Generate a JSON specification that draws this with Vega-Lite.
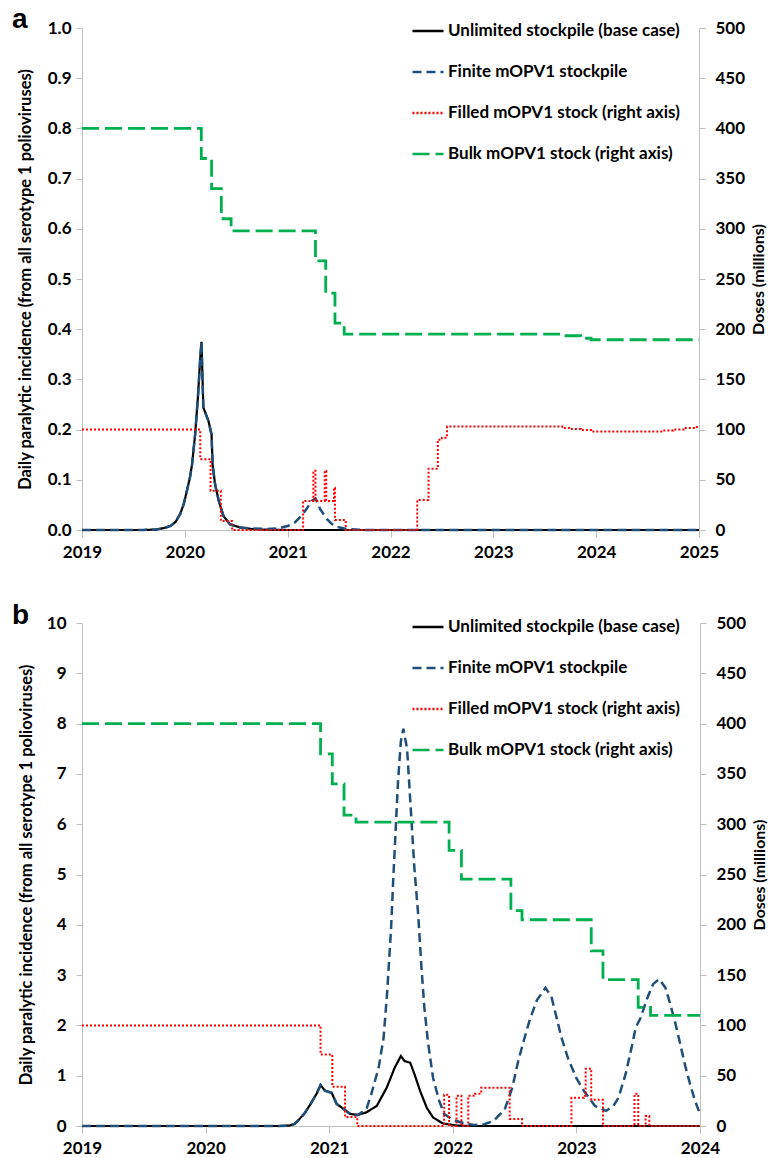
{
  "$schema": "https://vega.github.io/schema/vega-lite/v6.json",
  "background": "white",
  "padding": {"left": 12, "top": 6, "right": 0, "bottom": 0},
  "config": {
    "font": "Lato",
    "view": {"stroke": null},
    "axis": {"labelFont": "Lato", "labelFontWeight": "bold", "labelFontSize": 17, "labelColor": "#000000", "titleFont": "Lato", "titleFontWeight": "bold", "titleFontSize": 16.5, "titleColor": "#000000", "domainColor": "#BFBFBF", "tickColor": "#BFBFBF", "grid": false, "tickSize": 6}
  },
  "datasets": {
    "a": [
      {"s": "Unlimited stockpile (base case)", "t": 2019, "v": 0},
      {"s": "Unlimited stockpile (base case)", "t": 2019.6, "v": 0},
      {"s": "Unlimited stockpile (base case)", "t": 2019.72, "v": 0.001},
      {"s": "Unlimited stockpile (base case)", "t": 2019.8, "v": 0.004},
      {"s": "Unlimited stockpile (base case)", "t": 2019.86, "v": 0.008},
      {"s": "Unlimited stockpile (base case)", "t": 2019.91, "v": 0.016},
      {"s": "Unlimited stockpile (base case)", "t": 2019.955, "v": 0.032},
      {"s": "Unlimited stockpile (base case)", "t": 2019.99, "v": 0.052},
      {"s": "Unlimited stockpile (base case)", "t": 2020.02, "v": 0.078},
      {"s": "Unlimited stockpile (base case)", "t": 2020.05, "v": 0.105},
      {"s": "Unlimited stockpile (base case)", "t": 2020.07, "v": 0.13},
      {"s": "Unlimited stockpile (base case)", "t": 2020.1, "v": 0.19},
      {"s": "Unlimited stockpile (base case)", "t": 2020.127, "v": 0.264},
      {"s": "Unlimited stockpile (base case)", "t": 2020.15, "v": 0.343},
      {"s": "Unlimited stockpile (base case)", "t": 2020.162, "v": 0.375},
      {"s": "Unlimited stockpile (base case)", "t": 2020.18, "v": 0.244},
      {"s": "Unlimited stockpile (base case)", "t": 2020.23, "v": 0.217},
      {"s": "Unlimited stockpile (base case)", "t": 2020.26, "v": 0.19},
      {"s": "Unlimited stockpile (base case)", "t": 2020.27, "v": 0.13},
      {"s": "Unlimited stockpile (base case)", "t": 2020.295, "v": 0.09},
      {"s": "Unlimited stockpile (base case)", "t": 2020.33, "v": 0.058},
      {"s": "Unlimited stockpile (base case)", "t": 2020.375, "v": 0.028},
      {"s": "Unlimited stockpile (base case)", "t": 2020.44, "v": 0.011},
      {"s": "Unlimited stockpile (base case)", "t": 2020.54, "v": 0.005},
      {"s": "Unlimited stockpile (base case)", "t": 2020.65, "v": 0.002},
      {"s": "Unlimited stockpile (base case)", "t": 2020.8, "v": 0.0005},
      {"s": "Unlimited stockpile (base case)", "t": 2021, "v": 0},
      {"s": "Unlimited stockpile (base case)", "t": 2025, "v": 0},

      {"s": "Finite mOPV1 stockpile", "t": 2019, "v": 0},
      {"s": "Finite mOPV1 stockpile", "t": 2019.6, "v": 0},
      {"s": "Finite mOPV1 stockpile", "t": 2019.72, "v": 0.001},
      {"s": "Finite mOPV1 stockpile", "t": 2019.8, "v": 0.004},
      {"s": "Finite mOPV1 stockpile", "t": 2019.86, "v": 0.008},
      {"s": "Finite mOPV1 stockpile", "t": 2019.91, "v": 0.016},
      {"s": "Finite mOPV1 stockpile", "t": 2019.955, "v": 0.032},
      {"s": "Finite mOPV1 stockpile", "t": 2019.99, "v": 0.052},
      {"s": "Finite mOPV1 stockpile", "t": 2020.02, "v": 0.078},
      {"s": "Finite mOPV1 stockpile", "t": 2020.05, "v": 0.105},
      {"s": "Finite mOPV1 stockpile", "t": 2020.07, "v": 0.13},
      {"s": "Finite mOPV1 stockpile", "t": 2020.1, "v": 0.19},
      {"s": "Finite mOPV1 stockpile", "t": 2020.127, "v": 0.264},
      {"s": "Finite mOPV1 stockpile", "t": 2020.15, "v": 0.343},
      {"s": "Finite mOPV1 stockpile", "t": 2020.162, "v": 0.375},
      {"s": "Finite mOPV1 stockpile", "t": 2020.18, "v": 0.244},
      {"s": "Finite mOPV1 stockpile", "t": 2020.23, "v": 0.217},
      {"s": "Finite mOPV1 stockpile", "t": 2020.26, "v": 0.19},
      {"s": "Finite mOPV1 stockpile", "t": 2020.27, "v": 0.13},
      {"s": "Finite mOPV1 stockpile", "t": 2020.295, "v": 0.09},
      {"s": "Finite mOPV1 stockpile", "t": 2020.33, "v": 0.058},
      {"s": "Finite mOPV1 stockpile", "t": 2020.375, "v": 0.028},
      {"s": "Finite mOPV1 stockpile", "t": 2020.44, "v": 0.011},
      {"s": "Finite mOPV1 stockpile", "t": 2020.54, "v": 0.005},
      {"s": "Finite mOPV1 stockpile", "t": 2020.65, "v": 0.003},
      {"s": "Finite mOPV1 stockpile", "t": 2020.8, "v": 0.002},
      {"s": "Finite mOPV1 stockpile", "t": 2020.9, "v": 0.003},
      {"s": "Finite mOPV1 stockpile", "t": 2021, "v": 0.008},
      {"s": "Finite mOPV1 stockpile", "t": 2021.07, "v": 0.015},
      {"s": "Finite mOPV1 stockpile", "t": 2021.15, "v": 0.032},
      {"s": "Finite mOPV1 stockpile", "t": 2021.2, "v": 0.047},
      {"s": "Finite mOPV1 stockpile", "t": 2021.235, "v": 0.058},
      {"s": "Finite mOPV1 stockpile", "t": 2021.27, "v": 0.063},
      {"s": "Finite mOPV1 stockpile", "t": 2021.315, "v": 0.042},
      {"s": "Finite mOPV1 stockpile", "t": 2021.38, "v": 0.022},
      {"s": "Finite mOPV1 stockpile", "t": 2021.43, "v": 0.012},
      {"s": "Finite mOPV1 stockpile", "t": 2021.48, "v": 0.006},
      {"s": "Finite mOPV1 stockpile", "t": 2021.575, "v": 0.002},
      {"s": "Finite mOPV1 stockpile", "t": 2021.7, "v": 0.0005},
      {"s": "Finite mOPV1 stockpile", "t": 2021.8, "v": 0},
      {"s": "Finite mOPV1 stockpile", "t": 2025, "v": 0},

      {"s": "Filled mOPV1 stock (right axis)", "t": 2019, "v": 100},
      {"s": "Filled mOPV1 stock (right axis)", "t": 2020.15, "v": 70.5},
      {"s": "Filled mOPV1 stock (right axis)", "t": 2020.25, "v": 39},
      {"s": "Filled mOPV1 stock (right axis)", "t": 2020.35, "v": 9},
      {"s": "Filled mOPV1 stock (right axis)", "t": 2020.46, "v": 0},
      {"s": "Filled mOPV1 stock (right axis)", "t": 2021.15, "v": 29},
      {"s": "Filled mOPV1 stock (right axis)", "t": 2021.25, "v": 59},
      {"s": "Filled mOPV1 stock (right axis)", "t": 2021.27, "v": 29},
      {"s": "Filled mOPV1 stock (right axis)", "t": 2021.36, "v": 59},
      {"s": "Filled mOPV1 stock (right axis)", "t": 2021.375, "v": 29},
      {"s": "Filled mOPV1 stock (right axis)", "t": 2021.45, "v": 42},
      {"s": "Filled mOPV1 stock (right axis)", "t": 2021.46, "v": 10},
      {"s": "Filled mOPV1 stock (right axis)", "t": 2021.565, "v": 0},
      {"s": "Filled mOPV1 stock (right axis)", "t": 2022.26, "v": 30},
      {"s": "Filled mOPV1 stock (right axis)", "t": 2022.37, "v": 61},
      {"s": "Filled mOPV1 stock (right axis)", "t": 2022.46, "v": 90},
      {"s": "Filled mOPV1 stock (right axis)", "t": 2022.5, "v": 92},
      {"s": "Filled mOPV1 stock (right axis)", "t": 2022.55, "v": 103},
      {"s": "Filled mOPV1 stock (right axis)", "t": 2023.67, "v": 101.5},
      {"s": "Filled mOPV1 stock (right axis)", "t": 2023.75, "v": 100.5},
      {"s": "Filled mOPV1 stock (right axis)", "t": 2023.85, "v": 99.5},
      {"s": "Filled mOPV1 stock (right axis)", "t": 2023.95, "v": 98},
      {"s": "Filled mOPV1 stock (right axis)", "t": 2024.65, "v": 99},
      {"s": "Filled mOPV1 stock (right axis)", "t": 2024.75, "v": 100},
      {"s": "Filled mOPV1 stock (right axis)", "t": 2024.85, "v": 101.5},
      {"s": "Filled mOPV1 stock (right axis)", "t": 2024.95, "v": 102.5},
      {"s": "Filled mOPV1 stock (right axis)", "t": 2025, "v": 102.5},

      {"s": "Bulk mOPV1 stock (right axis)", "t": 2019, "v": 400},
      {"s": "Bulk mOPV1 stock (right axis)", "t": 2020.16, "v": 370},
      {"s": "Bulk mOPV1 stock (right axis)", "t": 2020.26, "v": 340},
      {"s": "Bulk mOPV1 stock (right axis)", "t": 2020.355, "v": 310},
      {"s": "Bulk mOPV1 stock (right axis)", "t": 2020.45, "v": 298},
      {"s": "Bulk mOPV1 stock (right axis)", "t": 2021.27, "v": 268},
      {"s": "Bulk mOPV1 stock (right axis)", "t": 2021.37, "v": 236},
      {"s": "Bulk mOPV1 stock (right axis)", "t": 2021.46, "v": 206},
      {"s": "Bulk mOPV1 stock (right axis)", "t": 2021.55, "v": 195},
      {"s": "Bulk mOPV1 stock (right axis)", "t": 2023.67, "v": 193.5},
      {"s": "Bulk mOPV1 stock (right axis)", "t": 2023.85, "v": 191},
      {"s": "Bulk mOPV1 stock (right axis)", "t": 2023.95, "v": 189.5},
      {"s": "Bulk mOPV1 stock (right axis)", "t": 2025, "v": 189.5}
    ],
    "b": [
      {"s": "Unlimited stockpile (base case)", "t": 2019, "v": 0},
      {"s": "Unlimited stockpile (base case)", "t": 2020.6, "v": 0},
      {"s": "Unlimited stockpile (base case)", "t": 2020.68, "v": 0.01},
      {"s": "Unlimited stockpile (base case)", "t": 2020.72, "v": 0.04},
      {"s": "Unlimited stockpile (base case)", "t": 2020.76, "v": 0.14},
      {"s": "Unlimited stockpile (base case)", "t": 2020.8, "v": 0.25},
      {"s": "Unlimited stockpile (base case)", "t": 2020.845, "v": 0.42},
      {"s": "Unlimited stockpile (base case)", "t": 2020.9, "v": 0.65},
      {"s": "Unlimited stockpile (base case)", "t": 2020.93, "v": 0.815},
      {"s": "Unlimited stockpile (base case)", "t": 2020.966, "v": 0.7},
      {"s": "Unlimited stockpile (base case)", "t": 2021.02, "v": 0.66},
      {"s": "Unlimited stockpile (base case)", "t": 2021.06, "v": 0.44},
      {"s": "Unlimited stockpile (base case)", "t": 2021.115, "v": 0.34},
      {"s": "Unlimited stockpile (base case)", "t": 2021.17, "v": 0.24},
      {"s": "Unlimited stockpile (base case)", "t": 2021.23, "v": 0.22},
      {"s": "Unlimited stockpile (base case)", "t": 2021.3, "v": 0.27},
      {"s": "Unlimited stockpile (base case)", "t": 2021.385, "v": 0.4},
      {"s": "Unlimited stockpile (base case)", "t": 2021.465, "v": 0.76},
      {"s": "Unlimited stockpile (base case)", "t": 2021.53, "v": 1.16},
      {"s": "Unlimited stockpile (base case)", "t": 2021.58, "v": 1.39},
      {"s": "Unlimited stockpile (base case)", "t": 2021.61, "v": 1.29},
      {"s": "Unlimited stockpile (base case)", "t": 2021.655, "v": 1.26},
      {"s": "Unlimited stockpile (base case)", "t": 2021.69, "v": 1.03},
      {"s": "Unlimited stockpile (base case)", "t": 2021.735, "v": 0.7},
      {"s": "Unlimited stockpile (base case)", "t": 2021.79, "v": 0.36},
      {"s": "Unlimited stockpile (base case)", "t": 2021.84, "v": 0.17},
      {"s": "Unlimited stockpile (base case)", "t": 2021.92, "v": 0.05},
      {"s": "Unlimited stockpile (base case)", "t": 2022.03, "v": 0.01},
      {"s": "Unlimited stockpile (base case)", "t": 2022.15, "v": 0},
      {"s": "Unlimited stockpile (base case)", "t": 2024, "v": 0},

      {"s": "Finite mOPV1 stockpile", "t": 2019, "v": 0},
      {"s": "Finite mOPV1 stockpile", "t": 2020.6, "v": 0},
      {"s": "Finite mOPV1 stockpile", "t": 2020.68, "v": 0.01},
      {"s": "Finite mOPV1 stockpile", "t": 2020.72, "v": 0.04},
      {"s": "Finite mOPV1 stockpile", "t": 2020.76, "v": 0.14},
      {"s": "Finite mOPV1 stockpile", "t": 2020.8, "v": 0.25},
      {"s": "Finite mOPV1 stockpile", "t": 2020.845, "v": 0.42},
      {"s": "Finite mOPV1 stockpile", "t": 2020.9, "v": 0.65},
      {"s": "Finite mOPV1 stockpile", "t": 2020.93, "v": 0.815},
      {"s": "Finite mOPV1 stockpile", "t": 2020.966, "v": 0.7},
      {"s": "Finite mOPV1 stockpile", "t": 2021.02, "v": 0.66},
      {"s": "Finite mOPV1 stockpile", "t": 2021.06, "v": 0.44},
      {"s": "Finite mOPV1 stockpile", "t": 2021.115, "v": 0.34},
      {"s": "Finite mOPV1 stockpile", "t": 2021.17, "v": 0.24},
      {"s": "Finite mOPV1 stockpile", "t": 2021.23, "v": 0.22},
      {"s": "Finite mOPV1 stockpile", "t": 2021.3, "v": 0.33},
      {"s": "Finite mOPV1 stockpile", "t": 2021.34, "v": 0.63},
      {"s": "Finite mOPV1 stockpile", "t": 2021.4, "v": 1.16},
      {"s": "Finite mOPV1 stockpile", "t": 2021.44, "v": 1.75},
      {"s": "Finite mOPV1 stockpile", "t": 2021.47, "v": 2.7},
      {"s": "Finite mOPV1 stockpile", "t": 2021.5, "v": 3.9},
      {"s": "Finite mOPV1 stockpile", "t": 2021.52, "v": 5.0},
      {"s": "Finite mOPV1 stockpile", "t": 2021.557, "v": 6.86},
      {"s": "Finite mOPV1 stockpile", "t": 2021.58, "v": 7.65},
      {"s": "Finite mOPV1 stockpile", "t": 2021.6, "v": 7.9},
      {"s": "Finite mOPV1 stockpile", "t": 2021.63, "v": 7.5},
      {"s": "Finite mOPV1 stockpile", "t": 2021.655, "v": 6.5},
      {"s": "Finite mOPV1 stockpile", "t": 2021.69, "v": 5.1},
      {"s": "Finite mOPV1 stockpile", "t": 2021.72, "v": 4.2},
      {"s": "Finite mOPV1 stockpile", "t": 2021.745, "v": 3.2},
      {"s": "Finite mOPV1 stockpile", "t": 2021.77, "v": 2.35},
      {"s": "Finite mOPV1 stockpile", "t": 2021.8, "v": 1.65},
      {"s": "Finite mOPV1 stockpile", "t": 2021.84, "v": 0.96},
      {"s": "Finite mOPV1 stockpile", "t": 2021.89, "v": 0.5},
      {"s": "Finite mOPV1 stockpile", "t": 2021.93, "v": 0.24},
      {"s": "Finite mOPV1 stockpile", "t": 2022.0, "v": 0.12},
      {"s": "Finite mOPV1 stockpile", "t": 2022.085, "v": 0.06},
      {"s": "Finite mOPV1 stockpile", "t": 2022.17, "v": 0.02},
      {"s": "Finite mOPV1 stockpile", "t": 2022.25, "v": 0.03},
      {"s": "Finite mOPV1 stockpile", "t": 2022.33, "v": 0.1},
      {"s": "Finite mOPV1 stockpile", "t": 2022.42, "v": 0.33},
      {"s": "Finite mOPV1 stockpile", "t": 2022.48, "v": 0.75},
      {"s": "Finite mOPV1 stockpile", "t": 2022.53, "v": 1.3},
      {"s": "Finite mOPV1 stockpile", "t": 2022.58, "v": 1.75},
      {"s": "Finite mOPV1 stockpile", "t": 2022.62, "v": 2.09},
      {"s": "Finite mOPV1 stockpile", "t": 2022.68, "v": 2.5},
      {"s": "Finite mOPV1 stockpile", "t": 2022.75, "v": 2.75},
      {"s": "Finite mOPV1 stockpile", "t": 2022.8, "v": 2.55},
      {"s": "Finite mOPV1 stockpile", "t": 2022.84, "v": 2.15},
      {"s": "Finite mOPV1 stockpile", "t": 2022.88, "v": 1.75},
      {"s": "Finite mOPV1 stockpile", "t": 2022.93, "v": 1.36},
      {"s": "Finite mOPV1 stockpile", "t": 2023.0, "v": 0.95},
      {"s": "Finite mOPV1 stockpile", "t": 2023.06, "v": 0.7},
      {"s": "Finite mOPV1 stockpile", "t": 2023.15, "v": 0.4},
      {"s": "Finite mOPV1 stockpile", "t": 2023.24, "v": 0.3},
      {"s": "Finite mOPV1 stockpile", "t": 2023.3, "v": 0.4},
      {"s": "Finite mOPV1 stockpile", "t": 2023.34, "v": 0.56},
      {"s": "Finite mOPV1 stockpile", "t": 2023.4, "v": 1.05},
      {"s": "Finite mOPV1 stockpile", "t": 2023.45, "v": 1.6},
      {"s": "Finite mOPV1 stockpile", "t": 2023.48, "v": 1.96},
      {"s": "Finite mOPV1 stockpile", "t": 2023.52, "v": 2.15},
      {"s": "Finite mOPV1 stockpile", "t": 2023.57, "v": 2.52},
      {"s": "Finite mOPV1 stockpile", "t": 2023.62, "v": 2.82},
      {"s": "Finite mOPV1 stockpile", "t": 2023.67, "v": 2.92},
      {"s": "Finite mOPV1 stockpile", "t": 2023.72, "v": 2.75},
      {"s": "Finite mOPV1 stockpile", "t": 2023.76, "v": 2.42},
      {"s": "Finite mOPV1 stockpile", "t": 2023.8, "v": 2.05},
      {"s": "Finite mOPV1 stockpile", "t": 2023.84, "v": 1.63},
      {"s": "Finite mOPV1 stockpile", "t": 2023.88, "v": 1.2},
      {"s": "Finite mOPV1 stockpile", "t": 2023.92, "v": 0.83},
      {"s": "Finite mOPV1 stockpile", "t": 2023.96, "v": 0.5},
      {"s": "Finite mOPV1 stockpile", "t": 2024.0, "v": 0.24},

      {"s": "Filled mOPV1 stock (right axis)", "t": 2019, "v": 100},
      {"s": "Filled mOPV1 stock (right axis)", "t": 2020.93, "v": 71},
      {"s": "Filled mOPV1 stock (right axis)", "t": 2021.025, "v": 39},
      {"s": "Filled mOPV1 stock (right axis)", "t": 2021.128, "v": 9},
      {"s": "Filled mOPV1 stock (right axis)", "t": 2021.227, "v": 0},
      {"s": "Filled mOPV1 stock (right axis)", "t": 2021.93, "v": 31},
      {"s": "Filled mOPV1 stock (right axis)", "t": 2021.97, "v": 0},
      {"s": "Filled mOPV1 stock (right axis)", "t": 2022.03, "v": 30},
      {"s": "Filled mOPV1 stock (right axis)", "t": 2022.07, "v": 0},
      {"s": "Filled mOPV1 stock (right axis)", "t": 2022.125, "v": 30},
      {"s": "Filled mOPV1 stock (right axis)", "t": 2022.18, "v": 32},
      {"s": "Filled mOPV1 stock (right axis)", "t": 2022.23, "v": 38},
      {"s": "Filled mOPV1 stock (right axis)", "t": 2022.46, "v": 7},
      {"s": "Filled mOPV1 stock (right axis)", "t": 2022.56, "v": 0},
      {"s": "Filled mOPV1 stock (right axis)", "t": 2022.96, "v": 28},
      {"s": "Filled mOPV1 stock (right axis)", "t": 2023.06, "v": 30},
      {"s": "Filled mOPV1 stock (right axis)", "t": 2023.075, "v": 57},
      {"s": "Filled mOPV1 stock (right axis)", "t": 2023.12, "v": 26},
      {"s": "Filled mOPV1 stock (right axis)", "t": 2023.215, "v": 0},
      {"s": "Filled mOPV1 stock (right axis)", "t": 2023.47, "v": 32},
      {"s": "Filled mOPV1 stock (right axis)", "t": 2023.5, "v": 0},
      {"s": "Filled mOPV1 stock (right axis)", "t": 2023.56, "v": 10},
      {"s": "Filled mOPV1 stock (right axis)", "t": 2023.59, "v": 0},
      {"s": "Filled mOPV1 stock (right axis)", "t": 2024, "v": 0},

      {"s": "Bulk mOPV1 stock (right axis)", "t": 2019, "v": 400},
      {"s": "Bulk mOPV1 stock (right axis)", "t": 2020.93, "v": 370},
      {"s": "Bulk mOPV1 stock (right axis)", "t": 2021.025, "v": 340},
      {"s": "Bulk mOPV1 stock (right axis)", "t": 2021.12, "v": 309},
      {"s": "Bulk mOPV1 stock (right axis)", "t": 2021.217, "v": 302},
      {"s": "Bulk mOPV1 stock (right axis)", "t": 2021.97, "v": 274},
      {"s": "Bulk mOPV1 stock (right axis)", "t": 2022.07, "v": 245.5},
      {"s": "Bulk mOPV1 stock (right axis)", "t": 2022.47, "v": 214},
      {"s": "Bulk mOPV1 stock (right axis)", "t": 2022.56, "v": 205},
      {"s": "Bulk mOPV1 stock (right axis)", "t": 2023.12, "v": 174},
      {"s": "Bulk mOPV1 stock (right axis)", "t": 2023.215, "v": 145.5},
      {"s": "Bulk mOPV1 stock (right axis)", "t": 2023.5, "v": 118},
      {"s": "Bulk mOPV1 stock (right axis)", "t": 2023.6, "v": 110},
      {"s": "Bulk mOPV1 stock (right axis)", "t": 2024, "v": 110}
    ]
  },
  "resolve": {"scale": {"color": "independent", "strokeDash": "independent"}},
  "bounds": "flush",
  "spacing": 93,
  "vconcat": [
    {
      "data": {"name": "a"},
      "title": {"text": "a", "anchor": "start", "frame": "group", "dx": -70, "offset": -20, "font": "Liberation Sans", "fontSize": 28, "fontWeight": "bold", "color": "#000000"},
      "width": 617,
      "height": 502,
      "encoding": {
        "x": {"field": "t", "type": "quantitative", "scale": {"domain": [2019, 2025], "nice": false, "zero": false}, "axis": {"values": [2019, 2020, 2021, 2022, 2023, 2024, 2025], "format": "d", "title": null, "labelPadding": 7, "tickSize": 7, "labelFlush": false}},
        "color": {"field": "s", "type": "nominal", "scale": {"domain": ["Unlimited stockpile (base case)", "Finite mOPV1 stockpile", "Filled mOPV1 stock (right axis)", "Bulk mOPV1 stock (right axis)"], "range": ["#000000", "#1F4E79", "#FF0000", "#00B050"]}, "legend": {"title": null, "orient": "none", "legendX": 329, "legendY": -14, "symbolType": "stroke", "symbolSize": 961, "symbolStrokeWidth": 2.5, "labelFont": "Lato", "labelFontSize": 17, "labelFontWeight": "bold", "labelColor": "#000000", "labelOffset": 3, "rowPadding": 16, "padding": 0, "labelLimit": 400}},
        "strokeDash": {"field": "s", "type": "nominal", "scale": {"domain": ["Unlimited stockpile (base case)", "Finite mOPV1 stockpile", "Filled mOPV1 stock (right axis)", "Bulk mOPV1 stock (right axis)"], "range": [[1, 0], [9, 5], [2, 2], [17, 6]]}, "legend": {"title": null, "orient": "none", "legendX": 329, "legendY": -14, "symbolType": "stroke", "symbolSize": 961, "symbolStrokeWidth": 2.5, "labelFont": "Lato", "labelFontSize": 17, "labelFontWeight": "bold", "labelColor": "#000000", "labelOffset": 3, "rowPadding": 16, "padding": 0, "labelLimit": 400}}
      },
      "layer": [
        {
          "encoding": {"y": {"field": "v", "type": "quantitative", "scale": {"domain": [0, 1], "nice": false}, "axis": {"orient": "left", "values": [0, 0.1, 0.2, 0.3, 0.4, 0.5, 0.6, 0.7, 0.8, 0.9, 1.0], "format": ".1f", "title": "Daily paralytic incidence (from all serotype 1 polioviruses)", "labelPadding": 5, "titlePadding": 14}}},
          "layer": [
            {"transform": [{"filter": {"field": "s", "equal": "Unlimited stockpile (base case)"}}], "mark": {"type": "line", "strokeWidth": 2.2}},
            {"transform": [{"filter": {"field": "s", "equal": "Finite mOPV1 stockpile"}}], "mark": {"type": "line", "strokeWidth": 2.5}}
          ]
        },
        {
          "encoding": {"y": {"field": "v", "type": "quantitative", "scale": {"domain": [0, 500], "nice": false}, "axis": {"orient": "right", "values": [0, 50, 100, 150, 200, 250, 300, 350, 400, 450, 500], "title": "Doses (millions)", "titleAngle": 270, "titleBaseline": "top", "titleFontSize": 16, "labelPadding": 10, "titlePadding": 6}}},
          "layer": [
            {"transform": [{"filter": {"field": "s", "equal": "Filled mOPV1 stock (right axis)"}}], "mark": {"type": "line", "interpolate": "step-after", "strokeWidth": 2}},
            {"transform": [{"filter": {"field": "s", "equal": "Bulk mOPV1 stock (right axis)"}}], "mark": {"type": "line", "interpolate": "step-after", "strokeWidth": 2.8}}
          ]
        }
      ],
      "resolve": {"scale": {"y": "independent"}}
    },
    {
      "data": {"name": "b"},
      "title": {"text": "b", "anchor": "start", "frame": "group", "dx": -70, "offset": -20, "font": "Liberation Sans", "fontSize": 28, "fontWeight": "bold", "color": "#000000"},
      "width": 618,
      "height": 503,
      "encoding": {
        "x": {"field": "t", "type": "quantitative", "scale": {"domain": [2019, 2024], "nice": false, "zero": false}, "axis": {"values": [2019, 2020, 2021, 2022, 2023, 2024], "format": "d", "title": null, "labelPadding": 7, "tickSize": 7, "labelFlush": false}},
        "color": {"field": "s", "type": "nominal", "scale": {"domain": ["Unlimited stockpile (base case)", "Finite mOPV1 stockpile", "Filled mOPV1 stock (right axis)", "Bulk mOPV1 stock (right axis)"], "range": ["#000000", "#1F4E79", "#FF0000", "#00B050"]}, "legend": {"title": null, "orient": "none", "legendX": 329, "legendY": -13, "symbolType": "stroke", "symbolSize": 961, "symbolStrokeWidth": 2.5, "labelFont": "Lato", "labelFontSize": 17, "labelFontWeight": "bold", "labelColor": "#000000", "labelOffset": 3, "rowPadding": 16, "padding": 0, "labelLimit": 400}},
        "strokeDash": {"field": "s", "type": "nominal", "scale": {"domain": ["Unlimited stockpile (base case)", "Finite mOPV1 stockpile", "Filled mOPV1 stock (right axis)", "Bulk mOPV1 stock (right axis)"], "range": [[1, 0], [9, 5], [2, 2], [17, 6]]}, "legend": {"title": null, "orient": "none", "legendX": 329, "legendY": -13, "symbolType": "stroke", "symbolSize": 961, "symbolStrokeWidth": 2.5, "labelFont": "Lato", "labelFontSize": 17, "labelFontWeight": "bold", "labelColor": "#000000", "labelOffset": 3, "rowPadding": 16, "padding": 0, "labelLimit": 400}}
      },
      "layer": [
        {
          "encoding": {"y": {"field": "v", "type": "quantitative", "scale": {"domain": [0, 10], "nice": false}, "axis": {"orient": "left", "values": [0, 1, 2, 3, 4, 5, 6, 7, 8, 9, 10], "format": "d", "title": "Daily paralytic incidence (from all serotype 1 polioviruses)", "labelPadding": 10, "titlePadding": 12}}},
          "layer": [
            {"transform": [{"filter": {"field": "s", "equal": "Unlimited stockpile (base case)"}}], "mark": {"type": "line", "strokeWidth": 2.2}},
            {"transform": [{"filter": {"field": "s", "equal": "Finite mOPV1 stockpile"}}], "mark": {"type": "line", "strokeWidth": 2.5}}
          ]
        },
        {
          "encoding": {"y": {"field": "v", "type": "quantitative", "scale": {"domain": [0, 500], "nice": false}, "axis": {"orient": "right", "values": [0, 50, 100, 150, 200, 250, 300, 350, 400, 450, 500], "title": "Doses (millions)", "titleAngle": 270, "titleBaseline": "top", "titleFontSize": 16, "labelPadding": 10, "titlePadding": 6}}},
          "layer": [
            {"transform": [{"filter": {"field": "s", "equal": "Filled mOPV1 stock (right axis)"}}], "mark": {"type": "line", "interpolate": "step-after", "strokeWidth": 2}},
            {"transform": [{"filter": {"field": "s", "equal": "Bulk mOPV1 stock (right axis)"}}], "mark": {"type": "line", "interpolate": "step-after", "strokeWidth": 2.8}}
          ]
        }
      ],
      "resolve": {"scale": {"y": "independent"}}
    }
  ]
}
